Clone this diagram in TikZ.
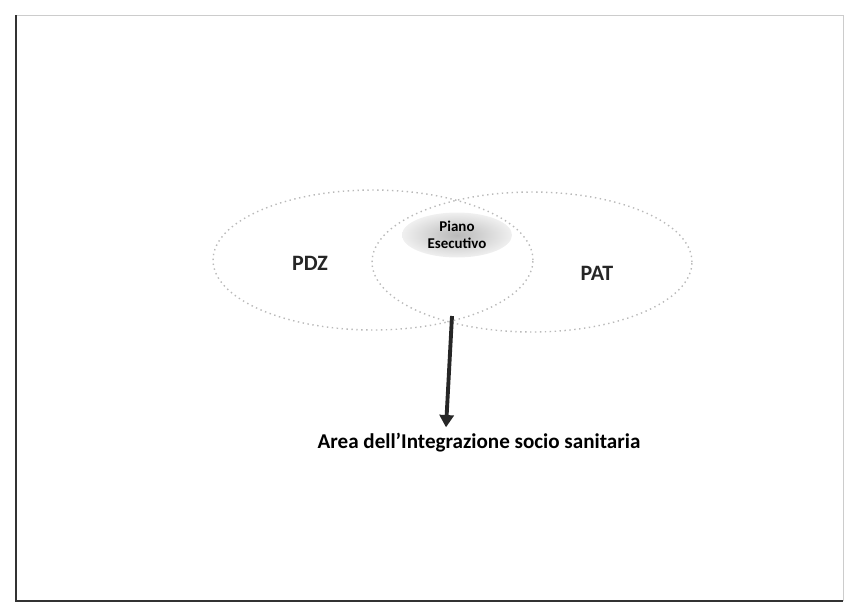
\documentclass[tikz,border=0pt]{standalone}
\usepackage{fontspec}
\setmainfont{Carlito}
\usetikzlibrary{arrows.meta}
\usetikzlibrary{shapes.geometric}
\usetikzlibrary{positioning}

\tikzset{
  plan/.style={ellipse, draw=gray!55, dotted, line width=0.8pt, minimum width=6.4cm, minimum height=2.8cm, inner sep=0pt},
  label/.style={font=\bfseries\fontsize{12.5}{14}\selectfont, text=black!85}
}

\begin{document}
\begin{tikzpicture}[x=0.02cm, y=-0.02cm]
						\useasboundingbox (0,0) rectangle (845,609);
						% draw frame
						\draw[gray!40, line width=0.5pt] (16,15) -- (843,15) -- (843,601);
						\draw[black!80, line width=0.7pt] (843,601) -- (16,601) -- (16,15);
						% draw the two plans
						\node[plan] (pdz) at (373,260) {};
						\node[plan] (pat) at (532,262) {};
						\node[label] (pdzlabel) at (310,263) {PDZ};
						\node[label] (patlabel) at (597,273) {PAT};
						% add executive plan
						\node[ellipse, minimum width=2.2cm, minimum height=0.9cm, inner sep=0pt, inner color=gray!55, outer color=gray!12, align=center, font=\bfseries\fontsize{8.5}{9.5}\selectfont] (piano) at (457,235) {Piano\\Esecutivo};
						% add arrow
						\coordinate (meet) at (452,316);
						\node[font=\bfseries\fontsize{12}{14}\selectfont] (area) at (479,443) {Area dell'Integrazione socio sanitaria};
						\draw[line width=2.2pt, black!85, -{Triangle[length=7pt, width=8pt]}] (meet) -- (area.north -| 446,0);
\end{tikzpicture}
\end{document}
